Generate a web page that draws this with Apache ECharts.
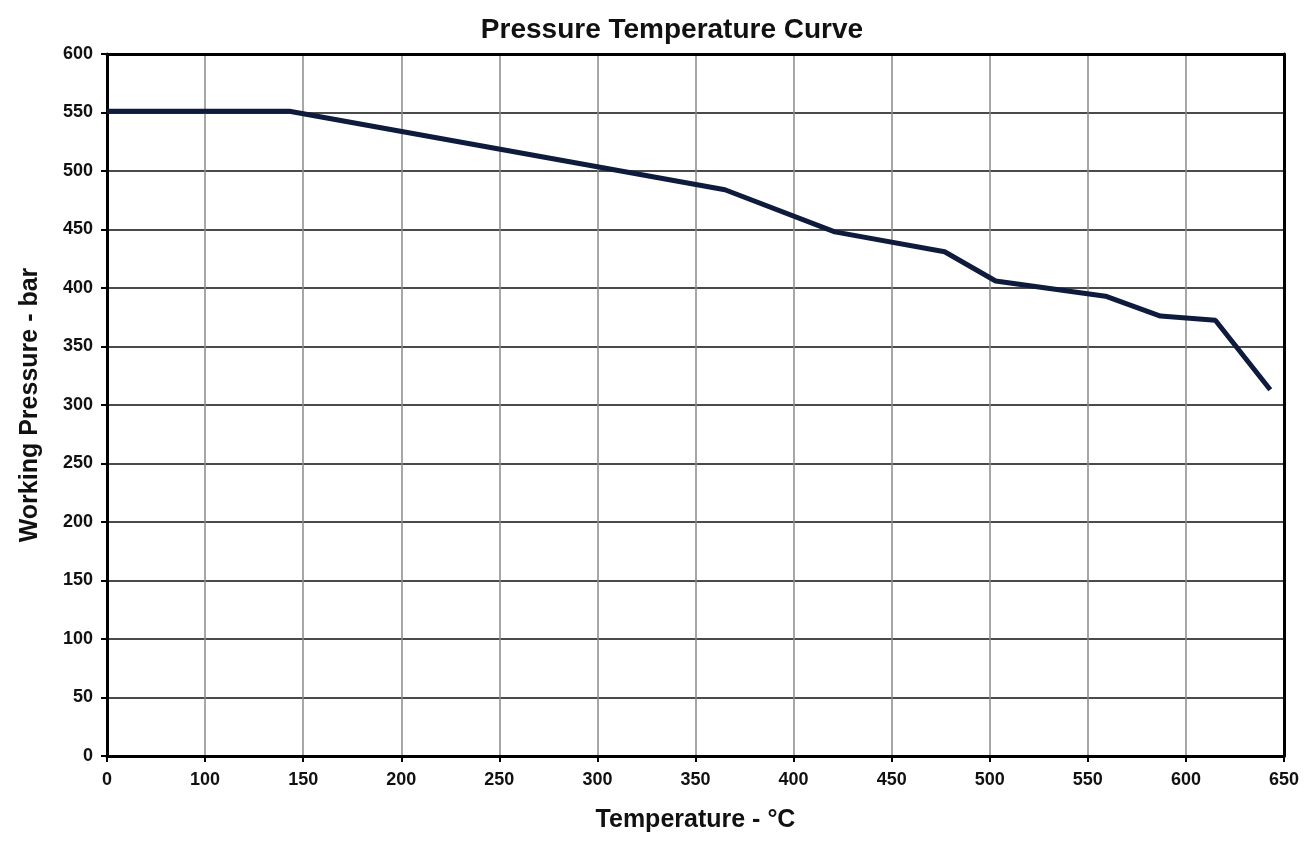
<!DOCTYPE html>
<html>
<head>
<meta charset="utf-8">
<script src="https://cdn.jsdelivr.net/npm/echarts@6/dist/echarts.min.js"></script>
<style>
  html, body { margin: 0; padding: 0; background: #fff; }
  #chart { width: 1306px; height: 843px; }
</style>
</head>
<body>
<div id="chart"></div>
<script>

// temperature readings (the first tick of the source axis is printed "0")
var temps = [50, 143, 365, 421, 477, 503, 559, 587, 615, 643];
var pressures = [551, 551, 484, 448, 431, 406, 393, 376, 372.5, 313];

var yTicks = { min: 0, max: 600, step: 50 };
var xTicks = { min: 50, max: 650, step: 50 };

var points = [];
for (var i = 0; i < temps.length; i++) {
  points.push([temps[i], pressures[i]]);
}

var chart = echarts.init(document.getElementById("chart"));

var labelFont = {
  color: "#111",
  fontFamily: "Liberation Sans",
  fontWeight: "bold",
  fontSize: 18
};

var nameFont = {
  color: "#111",
  fontFamily: "Liberation Sans",
  fontWeight: "bold",
  fontSize: 25
};

// plain black frame lines for the top and right edges
var frameAxis = {
  type: "value",
  axisLine: { show: true, onZero: false, lineStyle: { color: "#000", width: 3 } },
  axisTick: { show: false },
  axisLabel: { show: false },
  splitLine: { show: false }
};

var option = {
  backgroundColor: "#fff",
  animation: false,

  title: {
    text: "Pressure Temperature Curve",
    left: 667,
    top: 11,
    textAlign: "center",
    textStyle: {
      color: "#111",
      fontFamily: "Liberation Sans",
      fontWeight: "bold",
      fontSize: 28
    }
  },

  grid: {
    left: 107,
    right: 22,
    top: 54,
    bottom: 87
  },

  xAxis: [
    {
      type: "value",
      min: xTicks.min,
      max: xTicks.max,
      interval: xTicks.step,
      name: "Temperature - °C",
      nameLocation: "middle",
      nameGap: 52,
      nameTextStyle: nameFont,
      axisLine: { onZero: false, lineStyle: { color: "#000", width: 3 } },
      axisTick: { show: true, length: 6, lineStyle: { color: "#000", width: 2 } },
      axisLabel: Object.assign({
        margin: 15,
        formatter: function (v) { return v === xTicks.min ? "0" : v; }
      }, labelFont),
      splitLine: { show: true, lineStyle: { color: "#8a8a8a", width: 1.5 } }
    },
    Object.assign({ position: "top", min: xTicks.min, max: xTicks.max }, frameAxis)
  ],

  yAxis: [
    {
      type: "value",
      min: yTicks.min,
      max: yTicks.max,
      interval: yTicks.step,
      name: "Working Pressure - bar",
      nameLocation: "middle",
      nameGap: 64,
      nameTextStyle: nameFont,
      axisLine: { show: true, onZero: false, lineStyle: { color: "#000", width: 3 } },
      axisTick: { show: true, length: 6, lineStyle: { color: "#000", width: 2 } },
      axisLabel: Object.assign({ margin: 14 }, labelFont),
      splitLine: { show: true, lineStyle: { color: "#4a4a4a", width: 2 } }
    },
    Object.assign({ position: "right", min: yTicks.min, max: yTicks.max }, frameAxis)
  ],

  series: [
    {
      type: "line",
      data: points,
      xAxisIndex: 0,
      yAxisIndex: 0,
      symbol: "none",
      lineStyle: { color: "#0f1b3d", width: 5 },
      z: 5
    }
  ]
};

chart.setOption(option);

</script>
</body>
</html>
